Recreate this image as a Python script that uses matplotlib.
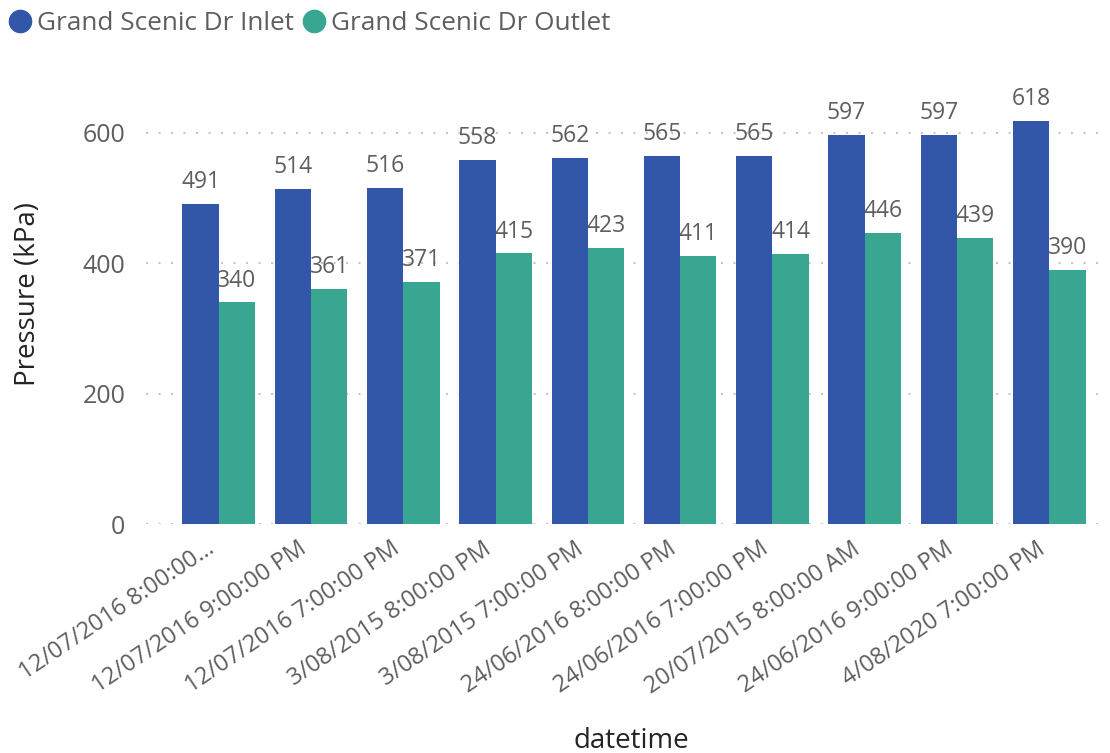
import matplotlib.pyplot as plt
import matplotlib.transforms as mtransforms
from matplotlib.lines import Line2D
import numpy as np

plt.rcParams['font.family'] = ['Open Sans', 'DejaVu Sans']

# Readings per timestamp
categories = [
    "12/07/2016 8:00:00…",
    "12/07/2016 9:00:00 PM",
    "12/07/2016 7:00:00 PM",
    "3/08/2015 8:00:00 PM",
    "3/08/2015 7:00:00 PM",
    "24/06/2016 8:00:00 PM",
    "24/06/2016 7:00:00 PM",
    "20/07/2015 8:00:00 AM",
    "24/06/2016 9:00:00 PM",
    "4/08/2020 7:00:00 PM",
]
inlet = [491, 514, 516, 558, 562, 565, 565, 597, 597, 618]
outlet = [340, 361, 371, 415, 423, 411, 414, 446, 439, 390]
series_names = ["Grand Scenic Dr Inlet", "Grand Scenic Dr Outlet"]
yticks = [0, 200, 400, 600]

BLUE = "#3257A8"
TEAL = "#38A690"
GREY = "#605E5C"
DARK = "#252423"

fig = plt.figure(figsize=(11.1, 7.53), dpi=100)
ax = fig.add_axes([0.1315, 0.3041, 0.8595, 0.5716])

x = np.arange(len(categories))
w = 0.393
ax.bar(x - w / 2, inlet, w, color=BLUE, zorder=3)
ax.bar(x + w / 2, outlet, w, color=TEAL, zorder=2)

# value labels; outlet labels sit under the inlet bars
for xi, v in zip(x, inlet):
    ax.annotate(str(v), (xi - w / 2, v), xytext=(0, 7), textcoords='offset points',
                ha='center', va='bottom', fontsize=16.5, color=GREY, zorder=5)
for xi, v in zip(x, outlet):
    ax.annotate(str(v), (xi + w / 2, v), xytext=(0, 7), textcoords='offset points',
                ha='center', va='bottom', fontsize=16.5, color=GREY, zorder=2.5)

ax.set_xlim(-0.788, 9.55)
ax.set_ylim(0, 660)
ax.set_yticks(yticks)
ax.yaxis.grid(True, linestyle=(0, (1, 5)), linewidth=1.5, color='#C8C6C4', zorder=0)
ax.set_axisbelow(True)
for s in ax.spines.values():
    s.set_visible(False)
ax.tick_params(axis='both', length=0, labelcolor=GREY)
ax.tick_params(axis='y', pad=15, labelsize=18)
ax.tick_params(axis='x', labelsize=17)

ax.set_xticks(x)
ax.set_xticklabels(categories, rotation=34, ha='right', va='top', rotation_mode='anchor')
shift = mtransforms.ScaledTranslation(-0.13, -0.08, fig.dpi_scale_trans)
for lbl in ax.get_xticklabels():
    lbl.set_transform(lbl.get_transform() + shift)

ax.set_ylabel("Pressure (kPa)", fontsize=20, color=DARK)
ax.yaxis.set_label_coords(-0.109, 0.535)
fig.text(0.569, 0.0066, "datetime", fontsize=20, color=DARK, ha='center', va='baseline')

handles = [Line2D([], [], marker='o', ls='', color=c, markersize=16) for c in (BLUE, TEAL)]
fig.legend(handles, series_names, loc='center left', bbox_to_anchor=(7 / 1110, 1 - 24 / 753),
           ncol=2, frameon=False, fontsize=18.8, labelcolor=GREY,
           handlelength=1.0, handletextpad=0.15, columnspacing=0.27,
           borderpad=0, borderaxespad=0)

fig.savefig("out.png", dpi=100)
